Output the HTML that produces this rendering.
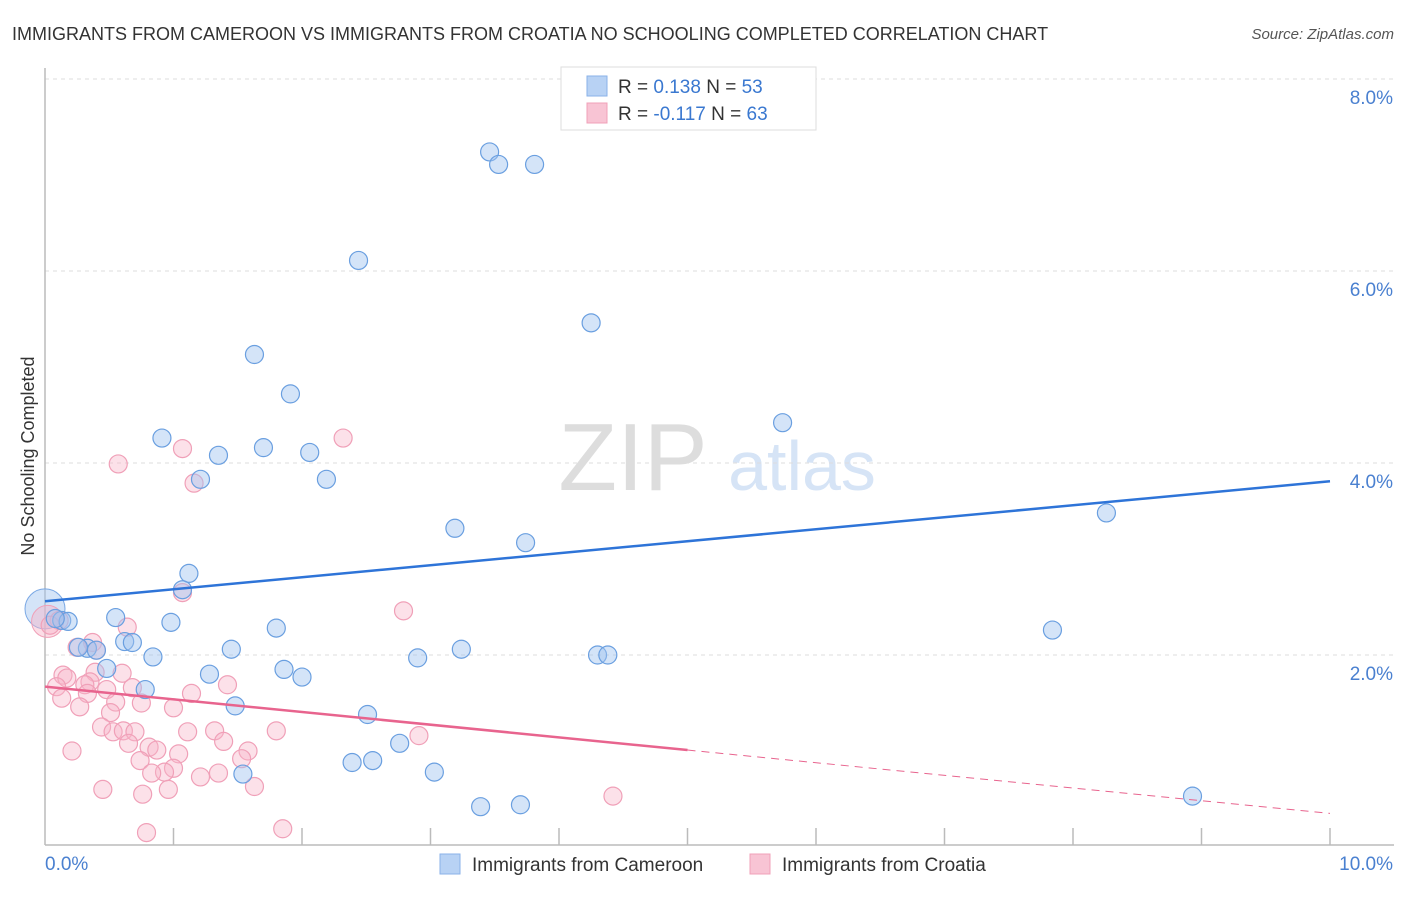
<!DOCTYPE html>
<html><head><meta charset="utf-8"><style>
body{margin:0;background:#fff;font-family:"Liberation Sans",sans-serif;}
svg text{font-family:"Liberation Sans",sans-serif;}
</style></head><body>
<svg id="chart" width="1406" height="892" xmlns="http://www.w3.org/2000/svg">
<text x="12" y="40" font-size="18" fill="#333">IMMIGRANTS FROM CAMEROON VS IMMIGRANTS FROM CROATIA NO SCHOOLING COMPLETED CORRELATION CHART</text>
<text x="1394" y="39" font-size="15" fill="#555" font-style="italic" text-anchor="end">Source: ZipAtlas.com</text>
<text transform="translate(34,456) rotate(-90)" font-size="18" fill="#333" text-anchor="middle">No Schooling Completed</text>
<g>
<text x="633" y="490" font-size="96" fill="#ddd" font-family="Liberation Serif" text-anchor="middle">ZIP</text>
<text x="802" y="490" font-size="70" fill="#d6e4f6" text-anchor="middle">atlas</text>
</g>
<g id="grid"></g>
<g id="axes"></g>
<g id="pts"></g>
<g id="trend"></g>
<g>
<rect x="561" y="67" width="255" height="63" fill="#fff" stroke="#ddd"/>
<rect x="587" y="76" width="20" height="20" fill="#b8d2f4" stroke="#8ab2e8"/>
<text x="618" y="93" font-size="19" fill="#333">R = <tspan fill="#3a78d0"> 0.138</tspan>   N = <tspan fill="#3a78d0">53</tspan></text>
<rect x="587" y="103" width="20" height="20" fill="#f8c4d4" stroke="#f0a0b8"/>
<text x="618" y="120" font-size="19" fill="#333">R = <tspan fill="#3a78d0">-0.117</tspan>   N = <tspan fill="#3a78d0">63</tspan></text>
</g>
<g>
<rect x="440" y="854" width="20" height="20" fill="#b8d2f4" stroke="#8ab2e8"/>
<text x="472" y="871" font-size="19" fill="#333">Immigrants from Cameroon</text>
<rect x="750" y="854" width="20" height="20" fill="#f8c4d4" stroke="#f0a0b8"/>
<text x="782" y="871" font-size="19" fill="#333">Immigrants from Croatia</text>
</g>
</svg>
<script>
const yTicks=[2,4,6,8];
const yTickLabels=["2.0%","4.0%","6.0%","8.0%"];
const xTickVals=[1,2,3,4,5,6,7,8,9,10];
const xEndLabels=["0.0%","10.0%"];
const blueX=[4.66,3.46,3.53,3.81,2.44,4.25,1.63,1.91,5.74,0.91,1.70,1.35,2.06,1.21,2.19,3.19,3.74,8.26,1.12,1.07,0.55,0.98,0.13,0.18,0.08,1.80,7.84,0.62,0.68,0.33,0.40,0.26,0.84,1.45,3.24,2.90,4.30,4.38,0.48,1.28,1.86,2.00,0.78,1.48,2.51,2.76,2.39,2.55,1.54,3.03,8.93,3.39,3.70];
const blueY=[8.01,7.24,7.11,7.11,6.11,5.46,5.13,4.72,4.42,4.26,4.16,4.08,4.11,3.83,3.83,3.32,3.17,3.48,2.85,2.68,2.39,2.34,2.36,2.35,2.38,2.28,2.26,2.14,2.13,2.07,2.05,2.08,1.98,2.06,2.06,1.97,2.00,2.00,1.86,1.80,1.85,1.77,1.64,1.47,1.38,1.08,0.88,0.90,0.76,0.78,0.53,0.42,0.44];
const pinkX=[2.79,0.64,0.37,0.40,0.25,0.14,0.17,0.09,0.39,0.60,0.35,0.31,0.48,0.68,0.33,0.13,0.27,0.55,0.75,1.14,1.42,1.00,0.51,0.44,0.53,0.61,0.70,0.65,1.11,1.32,1.39,1.80,2.91,0.81,0.87,1.04,0.21,1.58,1.53,0.74,1.00,0.93,0.83,1.21,1.35,1.63,0.45,0.76,0.96,0.79,1.85,2.32,1.07,0.57,1.16,4.42,1.07,0.11,0.04];
const pinkY=[2.46,2.29,2.13,2.05,2.08,1.79,1.76,1.67,1.82,1.81,1.72,1.69,1.64,1.66,1.60,1.55,1.46,1.51,1.50,1.60,1.69,1.45,1.40,1.25,1.20,1.21,1.20,1.08,1.20,1.21,1.10,1.21,1.16,1.04,1.01,0.97,1.00,1.00,0.92,0.90,0.82,0.78,0.77,0.73,0.77,0.63,0.60,0.55,0.60,0.15,0.19,4.26,4.15,3.99,3.79,0.53,2.65,2.36,2.31];
const blueTrend=[2.56,3.81];
const pinkTrend=[1.67,0.35];
const pinkSolidEnd=5;
const NS="http://www.w3.org/2000/svg";
const X=v=>45+v*128.5, Y=v=>847-v*96;
function mk(tag,attrs,parent){const e=document.createElementNS(NS,tag);for(const k in attrs)e.setAttribute(k,attrs[k]);parent.appendChild(e);return e;}
const grid=document.getElementById('grid'),axes=document.getElementById('axes'),pts=document.getElementById('pts'),trend=document.getElementById('trend');
yTicks.forEach((t,i)=>{
 const l=mk('line',{x1:45,x2:1394,y1:Y(t),y2:Y(t),stroke:'#ddd','stroke-dasharray':'4,4'},grid);
 
 
 const tx=mk('text',{x:1393,y:Y(t)+25,'font-size':19,fill:'#4a80d0','text-anchor':'end'},axes);
 tx.textContent=yTickLabels[i];
 
 
});
const ax=mk('line',{x1:45,x2:45,y1:68,y2:845,stroke:'#bbb','stroke-width':1.5},axes);


const bx=mk('line',{x1:45,x2:1394,y1:845,y2:845,stroke:'#bbb','stroke-width':1.5},axes);


xTickVals.forEach(t=>{
 const l=mk('line',{x1:X(t),x2:X(t),y1:828,y2:845,stroke:'#bbb','stroke-width':1.5},axes);
 
 
});
const xl0=mk('text',{x:45,y:870,'font-size':19,fill:'#4a80d0'},axes);xl0.textContent=xEndLabels[0];


const xl1=mk('text',{x:1393,y:870,'font-size':19,fill:'#4a80d0','text-anchor':'end'},axes);xl1.textContent=xEndLabels[1];


const big1=mk('circle',{cx:X(0),cy:Y(2.48),r:20,fill:'rgba(160,196,240,0.45)',stroke:'#7aa8e4'},pts);


const big2=mk('circle',{cx:X(0.02),cy:Y(2.35),r:16,fill:'rgba(248,180,200,0.45)',stroke:'#f0a0b8'},pts);


pinkX.forEach((x,i)=>{
 const c=mk('circle',{cx:X(x),cy:Y(pinkY[i]),r:9,fill:'rgba(248,180,200,0.4)',stroke:'#f0a0b8','stroke-width':1.2},pts);
 
 
});
blueX.forEach((x,i)=>{
 const c=mk('circle',{cx:X(x),cy:Y(blueY[i]),r:9,fill:'rgba(160,196,240,0.45)',stroke:'#6a9fe0','stroke-width':1.2},pts);
 
 
});
const bt=mk('line',{x1:X(0),y1:Y(blueTrend[0]),x2:X(10),y2:Y(blueTrend[1]),stroke:'#2e74d8','stroke-width':2.5},trend);


const pm=pinkTrend[0]+(pinkTrend[1]-pinkTrend[0])*pinkSolidEnd/10;
const pt=mk('line',{x1:X(0),y1:Y(pinkTrend[0]),x2:X(pinkSolidEnd),y2:Y(pm),stroke:'#e8648e','stroke-width':2.5},trend);


const pd=mk('line',{x1:X(pinkSolidEnd),y1:Y(pm),x2:X(10),y2:Y(pinkTrend[1]),stroke:'#e8648e','stroke-width':1,'stroke-dasharray':'8,6'},trend);


</script>
</body></html>
